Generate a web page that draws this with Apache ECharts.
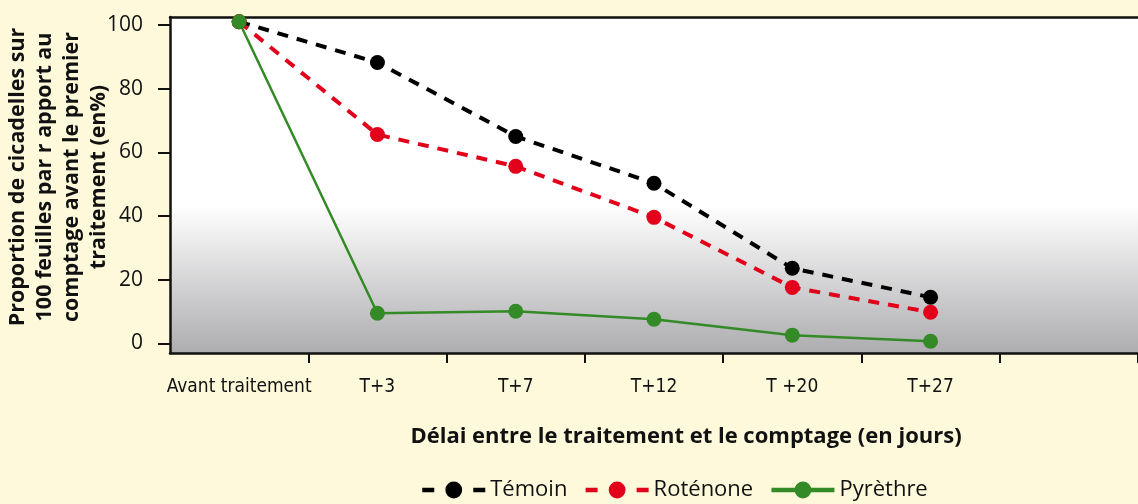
<!DOCTYPE html>
<html><head><meta charset="utf-8">
<script src="https://cdn.jsdelivr.net/npm/echarts@6/dist/echarts.min.js"></script>
<style>html,body{margin:0;padding:0;background:#fef9da;}#c{width:1138px;height:504px;}</style>
</head><body><div id="c"></div>
<script>
const categories = ['Avant traitement', 'T+3', 'T+7', 'T+12', 'T +20', 'T+27', ''];
const temoin = [101, 88.2, 65.0, 50.3, 23.6, 14.5, null];
const rotenone = [101, 65.6, 55.6, 39.6, 17.6, 9.8, null];
const pyrethre = [101, 9.5, 10.1, 7.6, 2.6, 0.7, null];
const yTicks = [0, 20, 40, 60, 80, 100];
const seriesNames = ['Témoin', 'Roténone', 'Pyrèthre'];

const chart = echarts.init(document.getElementById('c'));
const fontMain = 'Open Sans, Noto Sans, sans-serif';
const fontNarrow = 'DejaVu Sans Condensed, Liberation Sans Narrow, sans-serif';
chart.setOption({
  backgroundColor: '#fef9da',
  animation: false,
  grid: {
    left: 170, top: 17, right: 0, bottom: 151,
    containLabel: false, outerBoundsMode: 'none',
    show: true, borderWidth: 0,
    backgroundColor: new echarts.graphic.LinearGradient(0, 0, 0, 1, [
      {offset: 0, color: '#ffffff'}, {offset: 0.56, color: '#ffffff'},
      {offset: 1, color: '#adadb0'}])
  },
  legend: {
    top: 474, left: 415, itemWidth: 63, itemHeight: 21, itemGap: 16,
    textStyle: {fontFamily: fontMain, fontSize: 22, color: '#111'},
    data: [
      {name: seriesNames[0], lineStyle: {width: 4.5, type: [12, 39]}},
      {name: seriesNames[1], lineStyle: {width: 4.5, type: [12, 39]}},
      {name: seriesNames[2], lineStyle: {width: 4.5}}
    ]
  },
  xAxis: [{
    type: 'category', data: categories, boundaryGap: true, position: 'bottom',
    axisLine: {onZero: false, lineStyle: {color: '#111', width: 2.5}},
    axisTick: {show: true, length: 10, lineStyle: {color: '#111', width: 2},
      interval: function (index) { return index !== 0; }},
    axisLabel: {interval: 0, margin: 25, fontFamily: fontNarrow, fontSize: 19, color: '#111'},
    name: 'Délai entre le traitement et le comptage (en jours)',
    nameLocation: 'middle', nameGap: 73, nameMoveOverlap: false,
    nameTextStyle: {fontFamily: fontMain, fontWeight: 'bold', fontSize: 22, color: '#111', padding: [0, 0, 0, 64]}
  }, {
    type: 'category', data: categories, position: 'top',
    axisLine: {onZero: false, lineStyle: {color: '#111', width: 2.5}},
    axisTick: {show: false}, axisLabel: {show: false}
  }],
  yAxis: {
    type: 'value', min: -3, max: 102.5,
    splitLine: {show: false},
    axisLine: {show: true, onZero: false, lineStyle: {color: '#111', width: 2.5}},
    axisTick: {show: true, length: 12, lineStyle: {color: '#111', width: 2}, customValues: yTicks},
    axisLabel: {fontFamily: fontMain, fontSize: 21, color: '#111', margin: 27, customValues: yTicks},
    name: 'Proportion de cicadelles sur\n100 feuilles par r apport au\ncomptage avant le premier\ntraitement (en%)',
    nameLocation: 'middle', nameGap: 58, nameRotate: 90, nameMoveOverlap: false,
    nameTextStyle: {fontFamily: fontMain, fontWeight: 'bold', fontSize: 21.5, lineHeight: 27, color: '#111', padding: [0, 0, 0, 16]}
  },
  series: [{
    name: seriesNames[0], type: 'line', data: temoin,
    symbol: 'circle', symbolSize: 15,
    itemStyle: {color: '#000'},
    lineStyle: {color: '#000', width: 4, type: [11, 9]}
  }, {
    name: seriesNames[1], type: 'line', data: rotenone,
    symbol: 'circle', symbolSize: 15,
    itemStyle: {color: '#e2001a'},
    lineStyle: {color: '#e2001a', width: 4, type: [11, 9]}
  }, {
    name: seriesNames[2], type: 'line', data: pyrethre,
    symbol: 'circle', symbolSize: 15,
    itemStyle: {color: '#348a26'},
    lineStyle: {color: '#348a26', width: 2.5}
  }]
});
</script></body></html>
